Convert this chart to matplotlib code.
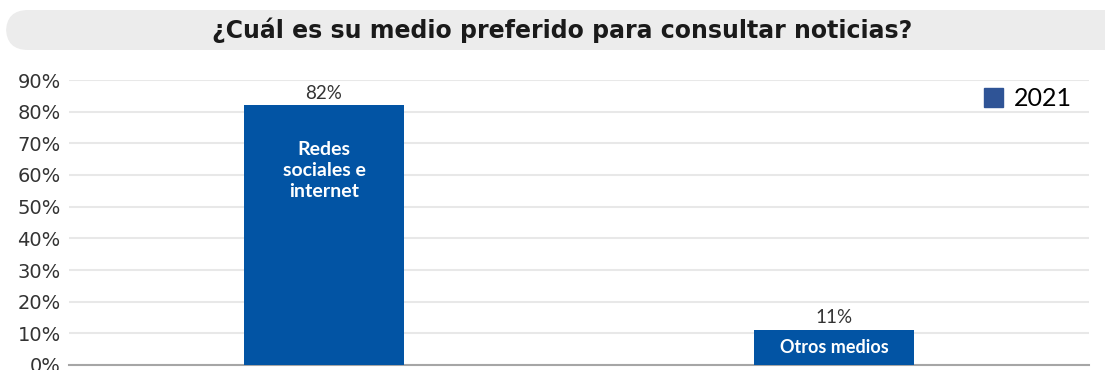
import matplotlib.pyplot as plt
from matplotlib.patches import FancyBboxPatch

# Data
categories = ['Redes\nsociales e\ninternet', 'Otros medios']
values = [82, 11]
value_labels = ['82%', '11%']
series_name = '2021'
yticks = [0, 10, 20, 30, 40, 50, 60, 70, 80, 90]
title = '¿Cuál es su medio preferido para consultar noticias?'

BAR_COLOR = '#0254A4'
LEGEND_COLOR = '#2F5496'

fig = plt.figure(figsize=(11.05, 3.7), dpi=100)

# Title banner (rounded grey box)
banner = FancyBboxPatch((6 / 1105, 320 / 370), 1120 / 1105, 40 / 370,
                        boxstyle='round,pad=0,rounding_size=0.02',
                        transform=fig.transFigure, facecolor='#ececec',
                        edgecolor='none', mutation_aspect=3)
fig.patches.append(banner)
fig.text(562 / 1105, 340 / 370, title, ha='center', va='center',
         fontsize=17, fontweight='bold', color='#1a1a1a', family='DejaVu Sans')

ax = fig.add_axes([69 / 1105, 5 / 370, 1020 / 1105, 285 / 370])
x = list(range(len(categories)))
bars = ax.bar(x, values, width=0.314, color=BAR_COLOR, label=series_name, zorder=3)

ax.set_xlim(-0.5, 1.5)
ax.set_ylim(0, 90)
ax.set_yticks(yticks)
ax.set_yticklabels([f'{t}%' for t in yticks], fontsize=14, color='#333333')
ax.tick_params(axis='y', length=0, pad=6)
ax.set_xticks([])
ax.grid(axis='y', color='#e8e8e8', linewidth=1.5, zorder=0)
for side in ['top', 'right', 'left']:
    ax.spines[side].set_visible(False)
ax.spines['bottom'].set_color('#a6a6a6')
ax.spines['bottom'].set_linewidth(1.5)

# value labels above bars
for xi, v, lab in zip(x, values, value_labels):
    ax.text(xi, v + 1.2, lab, ha='center', va='bottom', fontsize=13.5,
            color='#333333', family='Lato')

# category labels inside bars
ax.text(x[0], 61.5, categories[0], ha='center', va='center', fontsize=14,
        color='white', fontweight='bold', family='Lato', linespacing=1.3)
ax.text(x[1], values[1] / 2, categories[1], ha='center', va='center', fontsize=13,
        color='white', fontweight='bold', family='Lato')

leg = ax.legend(loc='upper right', bbox_to_anchor=(0.993, 1.01), frameon=False,
                prop={'family': 'Lato', 'size': 18}, handlelength=0.75,
                handleheight=0.75, handletextpad=0.45, borderaxespad=0)
leg.legend_handles[0].set_color(LEGEND_COLOR)

fig.savefig('out.png', dpi=100)
